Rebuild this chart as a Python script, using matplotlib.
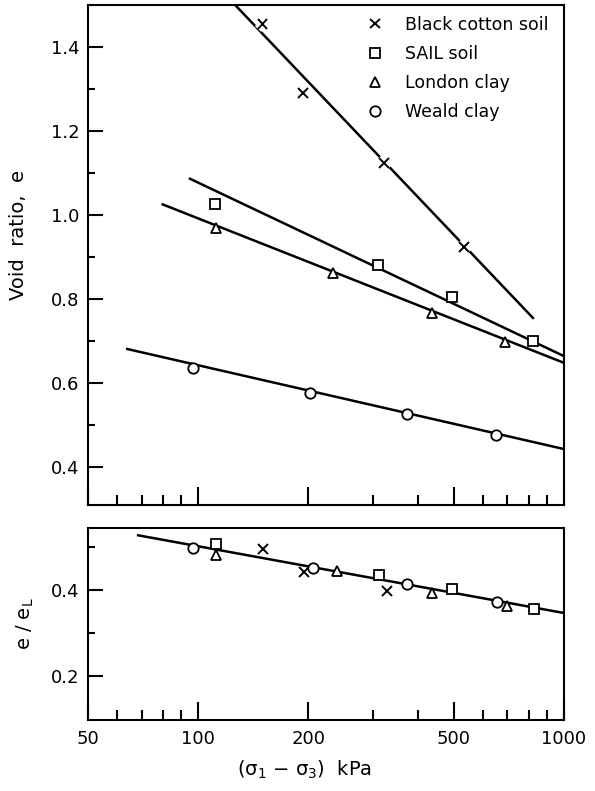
import matplotlib.pyplot as plt
import matplotlib.patheffects as pe
from matplotlib.ticker import FixedLocator, FixedFormatter, NullFormatter

# Black cotton soil (x)
bc_x = [150, 193, 322, 533]
bc_e = [1.455, 1.29, 1.124, 0.924]
bc_fit_x = [126, 822]
bc_fit_e = [1.50, 0.755]
bc_ratio_x = [150, 195, 328]
bc_ratio = [0.495, 0.442, 0.398]

# SAIL soil (squares)
sail_x = [111, 310, 494, 822]
sail_e = [1.025, 0.881, 0.805, 0.700]
sail_fit_x = [95, 1000]
sail_fit_e = [1.086, 0.664]
sail_ratio_x = [112, 312, 494, 830]
sail_ratio = [0.507, 0.435, 0.402, 0.356]

# London clay (triangles)
lon_x = [112, 234, 436, 690]
lon_e = [0.969, 0.862, 0.767, 0.698]
lon_fit_x = [80, 1000]
lon_fit_e = [1.025, 0.648]
lon_ratio_x = [112, 240, 436, 697]
lon_ratio = [0.481, 0.444, 0.393, 0.363]

# Weald clay (circles)
wea_x = [97, 202, 372, 652]
wea_e = [0.636, 0.576, 0.526, 0.476]
wea_fit_x = [64, 1000]
wea_fit_e = [0.681, 0.443]
wea_ratio_x = [97, 206, 372, 656]
wea_ratio = [0.498, 0.453, 0.414, 0.372]

# e/eL common line
ratio_fit_x = [68.5, 1000]
ratio_fit = [0.528, 0.347]

x_major = [50, 100, 200, 500, 1000]
x_minor = [60, 70, 80, 90, 300, 400, 600, 700, 800, 900]

plt.rcParams['font.family'] = 'DejaVu Sans'
fig = plt.figure(figsize=(5.95, 7.91), dpi=100)
ax1 = fig.add_axes([0.148, 0.3616, 0.80, 0.6324])
ax2 = fig.add_axes([0.148, 0.0898, 0.80, 0.2427])

lw = 1.8
halo = [pe.withStroke(linewidth=6, foreground='white')]
mk = dict(ls='none', color='black', mfc='white', mec='black', mew=1.3, ms=7.5)

# верхний график
ax1.plot(bc_fit_x, bc_fit_e, color='black', lw=lw)
ax1.plot(sail_fit_x, sail_fit_e, color='black', lw=lw)
ax1.plot(lon_fit_x, lon_fit_e, color='black', lw=lw)
ax1.plot(wea_fit_x, wea_fit_e, color='black', lw=lw)
ax1.plot(bc_x, bc_e, marker='x', ls='none', color='black', ms=7, mew=1.4,
         path_effects=halo, label='Black cotton soil')
ax1.plot(sail_x, sail_e, marker='s', label='SAIL soil', **mk)
ax1.plot(lon_x, lon_e, marker='^', label='London clay', **mk)
ax1.plot(wea_x, wea_e, marker='o', label='Weald clay', **mk)

# нижний график
ax2.plot(ratio_fit_x, ratio_fit, color='black', lw=lw)
ax2.plot(bc_ratio_x, bc_ratio, marker='x', ls='none', color='black', ms=7, mew=1.4)
ax2.plot(sail_ratio_x, sail_ratio, marker='s', **mk)
ax2.plot(lon_ratio_x, lon_ratio, marker='^', **mk)
ax2.plot(wea_ratio_x, wea_ratio, marker='o', **mk)

for ax in (ax1, ax2):
    ax.set_xscale('log')
    ax.set_xlim(50, 1000)
    ax.xaxis.set_major_locator(FixedLocator(x_major))
    ax.xaxis.set_minor_locator(FixedLocator(x_minor))
    ax.xaxis.set_minor_formatter(NullFormatter())
    ax.tick_params(which='both', direction='in', top=False, right=False,
                   width=1.5, labelsize=13)
    ax.tick_params(axis='x', which='major', length=13, pad=7)
    ax.tick_params(axis='x', which='minor', length=7)
    ax.tick_params(axis='y', which='major', length=11, pad=6)
    ax.tick_params(axis='y', which='minor', length=5)
    for s in ax.spines.values():
        s.set_linewidth(1.5)

ax1.set_ylim(0.31, 1.50)
ax1.yaxis.set_major_locator(FixedLocator([0.4, 0.6, 0.8, 1.0, 1.2, 1.4]))
ax1.yaxis.set_minor_locator(FixedLocator([0.5, 0.7, 0.9, 1.1, 1.3]))
ax1.xaxis.set_major_formatter(NullFormatter())
ax1.set_ylabel('Void  ratio,  e', fontsize=14)
ax1.yaxis.set_label_coords(-0.126, 0.54)

ax2.set_ylim(0.098, 0.545)
ax2.yaxis.set_major_locator(FixedLocator([0.2, 0.4]))
ax2.yaxis.set_minor_locator(FixedLocator([0.3, 0.5]))
ax2.xaxis.set_major_formatter(FixedFormatter([str(v) for v in x_major]))
ax2.set_ylabel(r'e / e$_{\rm L}$', fontsize=14)
ax2.yaxis.set_label_coords(-0.11, 0.5)
ax2.set_xlabel(r'(σ$_1$ − σ$_3$)  kPa', fontsize=14)
ax2.xaxis.set_label_coords(0.455, -0.2)

ax1.legend(loc='upper left', bbox_to_anchor=(0.57, 0.992), frameon=False,
           fontsize=12.5, handlelength=1.0, handletextpad=1.2,
           labelspacing=0.64, borderaxespad=0.0)

plt.savefig('out.png', dpi=100)
